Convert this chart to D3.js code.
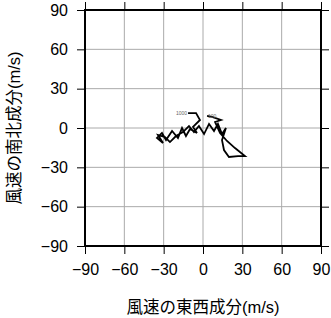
<!DOCTYPE html>
<html>
<head>
<meta charset="utf-8">
<script src="https://cdn.jsdelivr.net/npm/d3@7"></script>
<style>
  body { margin: 0; background: #fff; }
  svg text { font-family: "Liberation Sans", Arial, "Noto Sans CJK JP", sans-serif; }
</style>
</head>
<body>
<div id="container"></div>
<script>
/* CONSTANTS AND GLOBALS */
const width = 331;
const height = 318;
const margin = { top: 10, right: 10, bottom: 72, left: 85 };

/* DATA - hodograph, wind components (m/s) */
const uWind = [-11.4, -5.3, -2.3, -7.6, -4.6, -9.9, -13.0, -16.0, -19.1, -23.6,
  -28.2, -31.3, -35.1, -30.5, -34.3, -29.0, -25.2, -20.6, -15.3, -10.7,
  -6.9, -3.1, 0.8, 4.6, 8.4, 11.4, 14.5, 17.5, 14.5, 16.0,
  19.8, 26.7, 32.0, 24.4, 18.3, 13.0, 9.2, 13.7, 6.9, 3.1];
const vWind = [11.4, 11.4, 6.1, 0.8, -3.8, -0.8, -6.1, 0, -7.6, -2.3,
  -9.2, -3.8, -7.6, -11.4, -5.3, -6.9, -10.7, -6.1, -3.1, 1.5,
  -3.1, 1.5, -4.6, 3.1, -2.3, 3.1, -4.6, 0, -9.2, -16.8,
  -22.1, -21.4, -21.4, -15.3, -9.9, -3.8, 4.6, 6.1, 8.4, 9.2];
const levelLabels = ["1000", "100"];
const tickValues = [-90, -60, -30, 0, 30, 60, 90];

const points = uWind.map((u, i) => ({ u: u, v: vWind[i] }));

/* SCALES */
const xScale = d3.scaleLinear()
  .domain([-90, 90])
  .range([margin.left, width - margin.right]);

const yScale = d3.scaleLinear()
  .domain([-90, 90])
  .range([height - margin.bottom, margin.top]);

/* HTML ELEMENTS */
const svg = d3.select("#container")
  .append("svg")
  .attr("width", width)
  .attr("height", height);

const fmt = d => d < 0 ? "\u2212" + Math.abs(d) : String(d);

// grid
svg.append("g")
  .selectAll("line")
  .data(tickValues.slice(1, -1))
  .join("line")
  .attr("x1", d => xScale(d)).attr("x2", d => xScale(d))
  .attr("y1", margin.top).attr("y2", height - margin.bottom)
  .attr("stroke", "#aaa").attr("stroke-width", 1);

svg.append("g")
  .selectAll("line")
  .data(tickValues.slice(1, -1))
  .join("line")
  .attr("y1", d => yScale(d)).attr("y2", d => yScale(d))
  .attr("x1", margin.left).attr("x2", width - margin.right)
  .attr("stroke", "#aaa").attr("stroke-width", 1);

// axes (ticks on all four sides, labels bottom and left)
svg.append("g")
  .attr("class", "x-axis")
  .attr("transform", `translate(0,${height - margin.bottom})`)
  .call(d3.axisBottom(xScale).tickValues(tickValues).tickFormat(fmt).tickSize(8).tickPadding(10))
  .call(g => g.select(".domain").remove())
  .call(g => g.selectAll("text").style("font-size", "16px").attr("fill", "#000"));

svg.append("g")
  .attr("class", "y-axis")
  .attr("transform", `translate(${margin.left},0)`)
  .call(d3.axisLeft(yScale).tickValues(tickValues).tickFormat(fmt).tickSize(8).tickPadding(9))
  .call(g => g.select(".domain").remove())
  .call(g => g.selectAll("text").style("font-size", "16px").attr("fill", "#000"));

svg.append("g")
  .attr("transform", `translate(0,${margin.top})`)
  .call(d3.axisTop(xScale).tickValues(tickValues).tickFormat("").tickSize(8))
  .call(g => g.select(".domain").remove());

svg.append("g")
  .attr("transform", `translate(${width - margin.right},0)`)
  .call(d3.axisRight(yScale).tickValues(tickValues).tickFormat("").tickSize(8))
  .call(g => g.select(".domain").remove());

// frame
svg.append("rect")
  .attr("x", xScale(-90)).attr("y", yScale(90))
  .attr("width", xScale(90) - xScale(-90))
  .attr("height", yScale(-90) - yScale(90))
  .attr("fill", "none").attr("stroke", "#000").attr("stroke-width", 2);

// hodograph line
const line = d3.line().x(d => xScale(d.u)).y(d => yScale(d.v));
svg.append("path")
  .datum(points)
  .attr("d", line)
  .attr("fill", "none")
  .attr("stroke", "#000")
  .attr("stroke-width", 1.8)
  .attr("stroke-linejoin", "miter");

// level labels at start and end
const first = points[0], last = points[points.length - 1];
svg.append("text")
  .attr("x", xScale(first.u) - 1).attr("y", yScale(first.v) + 2)
  .attr("text-anchor", "end")
  .style("font-size", "5px").attr("fill", "#666")
  .text(levelLabels[0]);
svg.append("text")
  .attr("x", xScale(last.u) + 1).attr("y", yScale(last.v) + 2)
  .style("font-size", "5px").attr("fill", "#666")
  .text(levelLabels[1]);

// axis labels
svg.append("text")
  .attr("x", xScale(0)).attr("y", 313)
  .attr("text-anchor", "middle")
  .style("font-size", "16.5px")
  .text("風速の東西成分(m/s)");

svg.append("text")
  .attr("transform", `translate(20,${yScale(0)}) rotate(-90)`)
  .attr("text-anchor", "middle")
  .style("font-size", "16.5px")
  .text("風速の南北成分(m/s)");
</script>
</body>
</html>
